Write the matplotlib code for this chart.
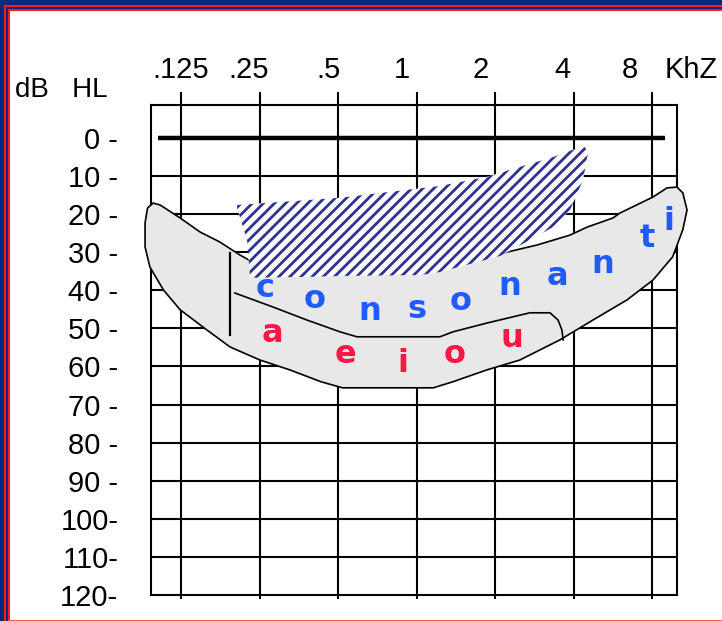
import matplotlib
matplotlib.use("Agg")
import matplotlib.pyplot as plt
from matplotlib.patches import Polygon, Rectangle
from matplotlib.ticker import NullLocator
from matplotlib.transforms import offset_copy

################################ Données ################################
frequences = [0.125, 0.25, 0.5, 1, 2, 4, 8]  # kHz
freq_labels = [".125", ".25", ".5", "1", "2", "4", "8"]
niveaux_db = [0, 10, 20, 30, 40, 50, 60, 70, 80, 90, 100, 110, 120]
niveaux_labels = ["0 -", "10 -", "20 -", "30 -", "40 -", "50 -", "60 -", "70 -",
                  "80 -", "90 -", "100-", "110-", "120-"]

# zone grise de la parole (banane)
banane_f = [0.0977, 0.104, 0.124, 0.148, 0.176, 0.210, 0.234, 0.357, 0.556, 1.03,
            1.23, 1.60, 2.15, 2.90, 3.88, 4.51, 5.67, 6.03, 8.07, 9.13,
            9.97, 10.5, 10.9, 10.5, 9.6, 8.07, 6.42, 4.75, 3.55, 2.49,
            1.86, 1.38, 1.16, 0.52, 0.43, 0.327, 0.251, 0.193, 0.157, 0.124,
            0.107, 0.095, 0.091, 0.091, 0.093]
banane_db = [17.1, 17.6, 21.0, 24.7, 27.3, 30.7, 32.5, 34.6, 35.4, 35.7,
             34.6, 32.8, 30.2, 28.1, 25.5, 23.4, 21.0, 19.7, 15.5, 13.1,
             12.9, 14.4, 18.9, 24.1, 31.2, 37.3, 42.5, 47.8, 53.0, 58.3,
             60.9, 64.0, 65.6, 65.6, 64.0, 60.9, 58.3, 54.9, 50.4, 45.1,
             39.9, 33.9, 28.6, 22.3, 18.4]

# zone hachurée
hachure_f = [0.205, 0.509, 1.23, 1.86, 2.49, 3.34, 4.05, 4.35, 4.55, 4.35,
             3.88, 3.34, 2.72, 2.09, 1.60, 1.23, 1.03, 0.556, 0.357, 0.230,
             0.224, 0.205]
hachure_db = [17.6, 15.7, 12.6, 10.2, 7.6, 5.0, 2.9, 1.8, 3.7, 11.0,
              18.9, 23.4, 26.8, 31.0, 33.1, 35.2, 36.0, 36.2, 36.5, 36.7,
              26.8, 18.4]

# séparation consonnes / voyelles
sep_f = [0.201, 0.282, 0.380, 0.509, 0.591, 1.23, 1.38, 1.86, 2.72, 3.25, 3.49, 3.61, 3.65]
sep_db = [40.7, 44.4, 47.8, 50.9, 52.2, 52.2, 50.9, 48.6, 45.9, 45.9, 47.8, 50.4, 53.0]
barre_f = 0.193
barre_db = [30.2, 51.7]
ligne_zero_f = [0.102, 8.97]

consonnes = list("consonanti")
consonnes_f = [0.262, 0.408, 0.663, 1.00, 1.47, 2.28, 3.46, 5.19, 7.65, 9.30]
consonnes_db = [41.7, 44.6, 47.8, 47.2, 45.1, 41.2, 38.6, 35.4, 28.6, 24.1]
voyelles = list("aeiou")
voyelles_f = [0.279, 0.532, 0.888, 1.40, 2.32]
voyelles_db = [53.5, 59.1, 61.4, 59.1, 54.9]

################################ Mise en page ################################
W, H = 722, 621
BLEU_FONCE = "#062b7d"
ROUGE = "#ff1a1a"
HACHURE = "#2e3192"
plt.rcParams["hatch.linewidth"] = 2.0
plt.rcParams["font.family"] = ["Liberation Sans", "DejaVu Sans"]

fig = plt.figure(figsize=(W / 100, H / 100), dpi=100, facecolor="white")


def rect_px(x, y, w, h, couleur):
    # rectangle en pixels, origine en haut à gauche
    fig.add_artist(Rectangle((x / W, 1 - (y + h) / H), w / W, h / H,
                             transform=fig.transFigure, color=couleur, lw=0))


# cadre bleu / rouge
rect_px(0, 0, W, 11, BLEU_FONCE)
rect_px(0, 0, 10, H, BLEU_FONCE)
rect_px(4, 5, W, 2, ROUGE)
rect_px(4, 5, 2, H, ROUGE)
rect_px(8, 9, W, 2, ROUGE)
rect_px(8, 9, 2, H, ROUGE)
rect_px(8, H - 1.5, W, 1.5, "#ff5555")

ax = fig.add_axes([151 / W, 1 - 595 / H, 526 / W, 490 / H])
ax.set_xscale("log", base=2)
ax.set_xlim(0.0959, 9.975)
ax.set_ylim(120, -8.66)
ax.set_facecolor("white")

# grille
for f in frequences:
    ax.axvline(f, color="black", lw=1.5, zorder=1)
for d in niveaux_db[1:-1]:
    ax.axhline(d, color="black", lw=1.5, zorder=1)
ax.plot(ligne_zero_f, [0, 0], color="black", lw=3.2, zorder=1, solid_capstyle="butt")

for s in ax.spines.values():
    s.set_linewidth(1.5)

ax.set_xticks(frequences)
ax.xaxis.set_minor_locator(NullLocator())
ax.tick_params(axis="x", top=True, bottom=True, direction="out", length=9.4, width=1.5,
               labelbottom=False, labeltop=False)
for t in ax.xaxis.get_major_ticks():
    t.tick1line.set_markersize(3)

ax.set_yticks(niveaux_db)
ax.set_yticklabels(niveaux_labels)
ax.tick_params(axis="y", length=0, pad=23.5, labelsize=21)

# étiquettes de fréquence (en haut)
decalages = [0, -11, -10, -15, -14, -11, -22]
for f, lab, dx in zip(frequences, freq_labels, decalages):
    tr = offset_copy(ax.get_xaxis_transform(), fig=fig, x=dx, y=0, units="dots")
    ax.text(f, 1.055, lab, transform=tr, ha="center", va="baseline", fontsize=21)
fig.text(665 / W, 1 - 78 / H, "KhZ", ha="left", va="baseline", fontsize=21)
fig.text(15 / W, 1 - 97 / H, "dB   HL", ha="left", va="baseline", fontsize=20)

# banane grise
ax.add_patch(Polygon(list(zip(banane_f, banane_db)), closed=True, facecolor="#e8e8e8",
                     edgecolor="black", lw=1.2, zorder=3, clip_on=False))
ax.plot(sep_f, sep_db, color="black", lw=1.2, zorder=3.5, clip_on=False)
ax.plot([barre_f, barre_f], barre_db, color="black", lw=1.6, zorder=3.5)

# zone hachurée
ax.add_patch(Polygon(list(zip(hachure_f, hachure_db)), closed=True, facecolor="white",
                     edgecolor=HACHURE, hatch="///", lw=0, zorder=4))

# lettres
for ch, f, d in zip(consonnes, consonnes_f, consonnes_db):
    ax.text(f, d, ch, color="#1f5bff", fontsize=23, fontweight="bold", family="DejaVu Sans",
            ha="center", va="baseline", zorder=5)
for ch, f, d in zip(voyelles, voyelles_f, voyelles_db):
    ax.text(f, d, ch, color="#ff1744", fontsize=23, fontweight="bold", family="DejaVu Sans",
            ha="center", va="baseline", zorder=5)

fig.savefig("out.png", dpi=100, facecolor="white")
